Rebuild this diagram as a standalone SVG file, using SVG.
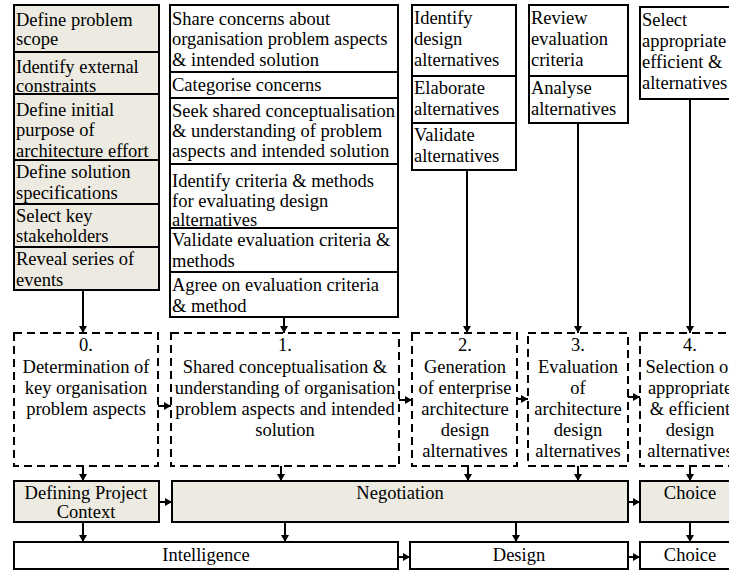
<svg xmlns="http://www.w3.org/2000/svg" width="729" height="573" viewBox="0 0 729 573">
  <style>
    .box { fill: #ffffff; stroke: #000000; stroke-width: 2; }
    .beige { fill: #ECEAE1; }
    .dash { fill: #ffffff; stroke: #000000; stroke-width: 2; stroke-dasharray: 8 5; }
    text { font-family: "Liberation Serif", "Times New Roman", serif; font-size: 18.5px; fill: #000000; }
    .c { text-anchor: middle; }
    .conn line { stroke: #000000; stroke-width: 2; marker-end: url(#arrow); }
  </style>
  <defs>
    <marker id="arrow" markerUnits="userSpaceOnUse" markerWidth="9" markerHeight="9" refX="7" refY="4.5" orient="auto">
      <path d="M0,0.5 L7,4.5 L0,8.5 Z" fill="#000000"/>
    </marker>
  </defs>

  <!-- Column 0: project context tasks -->
  <g id="tasks-context">
    <rect class="box beige" x="14" y="5" width="145" height="47"/>
    <rect class="box beige" x="14" y="52" width="145" height="42"/>
    <rect class="box beige" x="14" y="94" width="145" height="66"/>
    <rect class="box beige" x="14" y="160" width="145" height="44"/>
    <rect class="box beige" x="14" y="204" width="145" height="43"/>
    <rect class="box beige" x="14" y="247" width="145" height="43"/>
    <text x="16" y="26">Define problem</text>
    <text x="16" y="45">scope</text>
    <text x="16" y="73">Identify external</text>
    <text x="16" y="92">constraints</text>
    <text x="16" y="116">Define initial</text>
    <text x="16" y="136">purpose of</text>
    <text x="16" y="157">architecture effort</text>
    <text x="16" y="178">Define solution</text>
    <text x="16" y="199">specifications</text>
    <text x="16" y="222">Select key</text>
    <text x="16" y="242">stakeholders</text>
    <text x="16" y="265">Reveal series of</text>
    <text x="16" y="286">events</text>
  </g>

  <!-- Column 1: shared conceptualisation tasks -->
  <g id="tasks-shared">
    <rect class="box" x="170" y="5" width="228" height="67"/>
    <rect class="box" x="170" y="72" width="228" height="26"/>
    <rect class="box" x="170" y="98" width="228" height="66"/>
    <rect class="box" x="170" y="164" width="228" height="64"/>
    <rect class="box" x="170" y="228" width="228" height="44"/>
    <rect class="box" x="170" y="272" width="228" height="45"/>
    <text x="172" y="25">Share concerns about</text>
    <text x="172" y="45">organisation problem aspects</text>
    <text x="172" y="66">&amp; intended solution</text>
    <text x="172" y="91">Categorise concerns</text>
    <text x="172" y="117">Seek shared conceptualisation</text>
    <text x="172" y="137">&amp; understanding of problem</text>
    <text x="172" y="157">aspects and intended solution</text>
    <text x="172" y="187">Identify criteria &amp; methods</text>
    <text x="172" y="207">for evaluating design</text>
    <text x="172" y="226">alternatives</text>
    <text x="172" y="246">Validate evaluation criteria &amp;</text>
    <text x="172" y="267">methods</text>
    <text x="172" y="291">Agree on evaluation criteria</text>
    <text x="172" y="312">&amp; method</text>
  </g>

  <!-- Column 2: generation tasks -->
  <g id="tasks-generation">
    <rect class="box" x="412" y="5" width="104" height="71"/>
    <rect class="box" x="412" y="76" width="104" height="47"/>
    <rect class="box" x="412" y="123" width="104" height="47"/>
    <text x="414" y="24">Identify</text>
    <text x="414" y="45">design</text>
    <text x="414" y="66">alternatives</text>
    <text x="414" y="94">Elaborate</text>
    <text x="414" y="115">alternatives</text>
    <text x="414" y="141">Validate</text>
    <text x="414" y="162">alternatives</text>
  </g>

  <!-- Column 3: evaluation tasks -->
  <g id="tasks-evaluation">
    <rect class="box" x="529" y="5" width="99" height="71"/>
    <rect class="box" x="529" y="76" width="99" height="47"/>
    <text x="531" y="24">Review</text>
    <text x="531" y="45">evaluation</text>
    <text x="531" y="66">criteria</text>
    <text x="531" y="94">Analyse</text>
    <text x="531" y="115">alternatives</text>
  </g>

  <!-- Column 4: selection tasks -->
  <g id="tasks-selection">
    <rect class="box" x="640" y="7" width="105" height="92"/>
    <text x="642" y="26">Select</text>
    <text x="642" y="47">appropriate</text>
    <text x="642" y="68">efficient &amp;</text>
    <text x="642" y="89">alternatives</text>
  </g>

  <!-- Stages -->
  <g id="stage-0">
    <rect class="dash beige" x="14" y="333" width="144" height="133"/>
    <text class="c" x="86" y="351">0.</text>
    <text class="c" x="86" y="373">Determination of</text>
    <text class="c" x="86" y="394">key organisation</text>
    <text class="c" x="86" y="415">problem aspects</text>
  </g>
  <g id="stage-1">
    <rect class="dash" x="171" y="333" width="228" height="133"/>
    <text class="c" x="285" y="351">1.</text>
    <text class="c" x="285" y="373">Shared conceptualisation &amp;</text>
    <text class="c" x="285" y="394">understanding of organisation</text>
    <text class="c" x="285" y="415">problem aspects and intended</text>
    <text class="c" x="285" y="436">solution</text>
  </g>
  <g id="stage-2">
    <rect class="dash" x="412" y="333" width="105" height="133"/>
    <text class="c" x="465" y="351">2.</text>
    <text class="c" x="465" y="373">Generation</text>
    <text class="c" x="465" y="394">of enterprise</text>
    <text class="c" x="465" y="415">architecture</text>
    <text class="c" x="465" y="436">design</text>
    <text class="c" x="465" y="457">alternatives</text>
  </g>
  <g id="stage-3">
    <rect class="dash" x="528" y="333" width="100" height="133"/>
    <text class="c" x="578" y="351">3.</text>
    <text class="c" x="578" y="373">Evaluation</text>
    <text class="c" x="578" y="394">of</text>
    <text class="c" x="578" y="415">architecture</text>
    <text class="c" x="578" y="436">design</text>
    <text class="c" x="578" y="457">alternatives</text>
  </g>
  <g id="stage-4">
    <rect class="dash" x="640" y="333" width="105" height="133"/>
    <text class="c" x="690" y="351">4.</text>
    <text class="c" x="690" y="373">Selection of</text>
    <text class="c" x="690" y="394">appropriate</text>
    <text class="c" x="690" y="415">&amp; efficient</text>
    <text class="c" x="690" y="436">design</text>
    <text class="c" x="690" y="457">alternatives</text>
  </g>

  <!-- Phase row -->
  <g id="phase-context">
    <rect class="box beige" x="14" y="481" width="145" height="41"/>
    <text class="c" x="86" y="499">Defining Project</text>
    <text class="c" x="86" y="518">Context</text>
  </g>
  <g id="phase-negotiation">
    <rect class="box beige" x="172" y="481" width="456" height="41"/>
    <text class="c" x="400" y="499">Negotiation</text>
  </g>
  <g id="phase-choice">
    <rect class="box beige" x="640" y="481" width="105" height="41"/>
    <text class="c" x="690" y="499">Choice</text>
  </g>

  <!-- Decision-making row -->
  <g id="dm-intelligence">
    <rect class="box" x="14" y="542" width="384" height="27"/>
    <text class="c" x="206" y="561">Intelligence</text>
  </g>
  <g id="dm-design">
    <rect class="box" x="410" y="542" width="218" height="27"/>
    <text class="c" x="519" y="561">Design</text>
  </g>
  <g id="dm-choice">
    <rect class="box" x="640" y="542" width="105" height="27"/>
    <text class="c" x="690" y="561">Choice</text>
  </g>

  <!-- Connectors -->
  <g class="conn" id="connectors">
    <line x1="83" y1="290" x2="83" y2="333"/>
    <line x1="284" y1="317" x2="284" y2="333"/>
    <line x1="467" y1="170" x2="467" y2="333"/>
    <line x1="578" y1="123" x2="578" y2="333"/>
    <line x1="690" y1="99" x2="690" y2="333"/>

    <line x1="158" y1="406" x2="171" y2="406"/>
    <line x1="399" y1="400" x2="412" y2="400"/>
    <line x1="517" y1="399" x2="528" y2="399"/>
    <line x1="628" y1="397" x2="640" y2="397"/>

    <line x1="83" y1="466" x2="83" y2="481"/>
    <line x1="281" y1="466" x2="281" y2="481"/>
    <line x1="468" y1="466" x2="468" y2="481"/>
    <line x1="578" y1="466" x2="578" y2="481"/>
    <line x1="690" y1="466" x2="690" y2="481"/>

    <line x1="159" y1="502" x2="172" y2="502"/>
    <line x1="628" y1="502" x2="640" y2="502"/>

    <line x1="83" y1="522" x2="83" y2="542"/>
    <line x1="285" y1="522" x2="285" y2="542"/>
    <line x1="516" y1="522" x2="516" y2="542"/>
    <line x1="690" y1="522" x2="690" y2="542"/>

    <line x1="398" y1="557" x2="410" y2="557"/>
    <line x1="628" y1="557" x2="640" y2="557"/>
  </g>
</svg>
